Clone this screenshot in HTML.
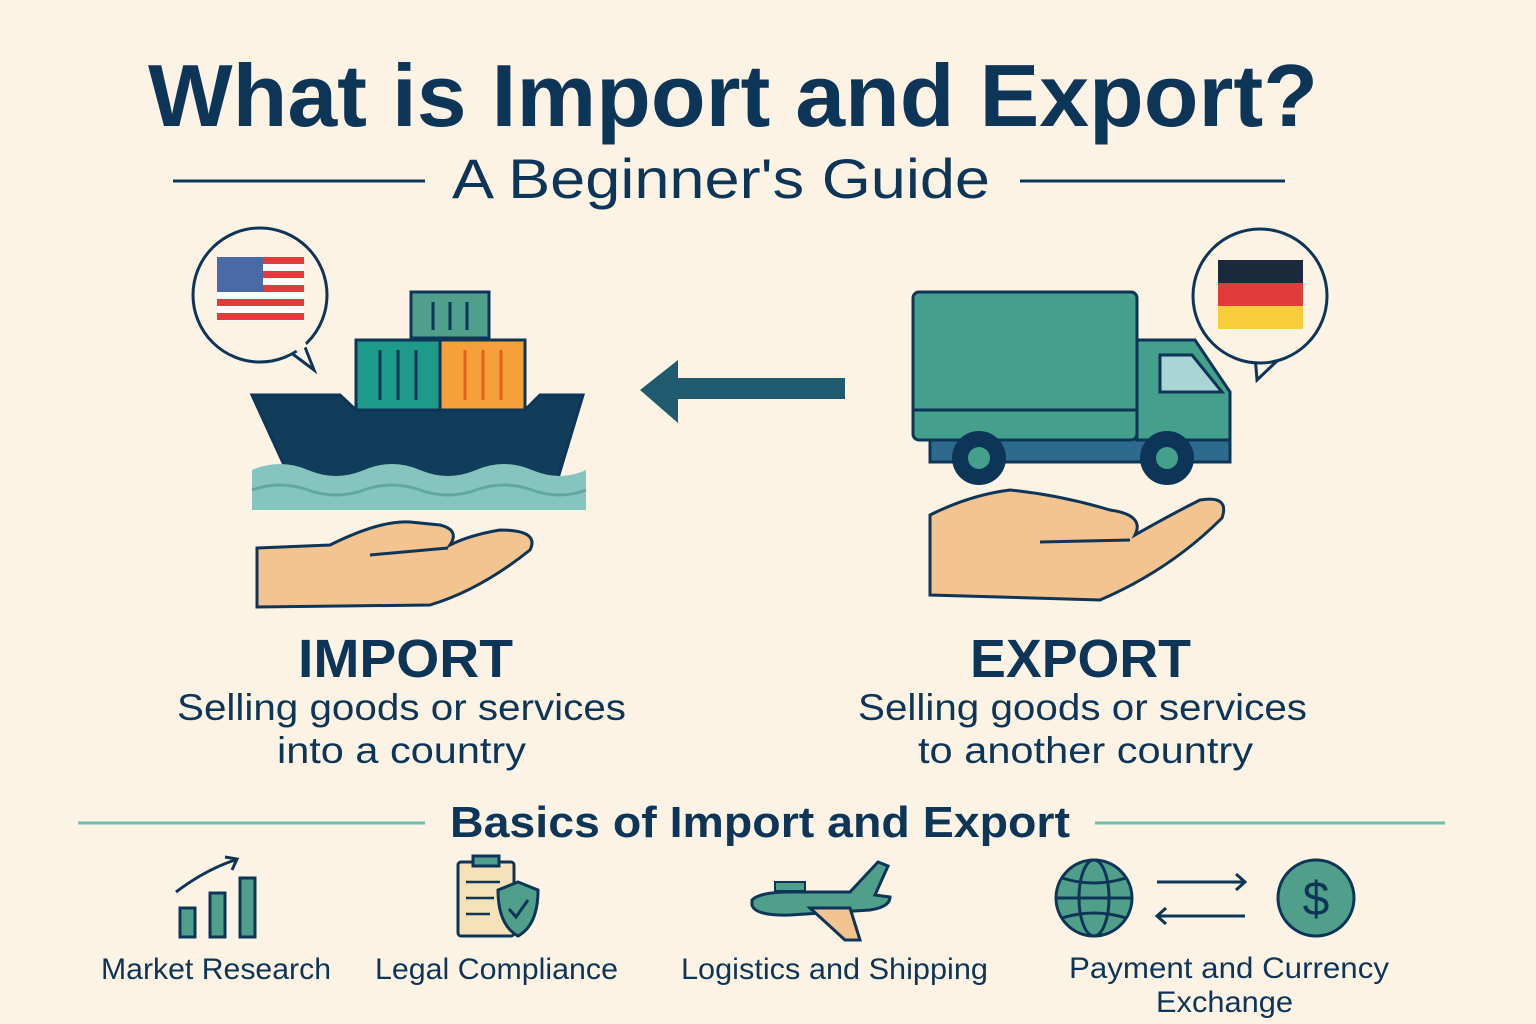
<!DOCTYPE html>
<html><head><meta charset="utf-8"><style>
html,body{margin:0;padding:0;background:#fdf3e4;}
svg{display:block;}
text{font-family:"Liberation Sans",sans-serif;fill:#0d3557;}
</style></head><body>
<svg width="1536" height="1024" viewBox="0 0 1536 1024" xmlns="http://www.w3.org/2000/svg">
<rect width="1536" height="1024" fill="#fdf3e4"/>
<text x="148" y="126" font-size="88" font-weight="bold" textLength="1170" lengthAdjust="spacingAndGlyphs">What is Import and Export?</text>
<line x1="173" y1="181" x2="425" y2="181" stroke="#0d3557" stroke-width="3"/>
<line x1="1020" y1="181" x2="1285" y2="181" stroke="#0d3557" stroke-width="3"/>
<text x="452" y="198" font-size="56" textLength="538" lengthAdjust="spacingAndGlyphs">A Beginner's Guide</text>

<path d="M290 352 L314 370 L303 342 Z" fill="#fdf3e4" stroke="#0d3557" stroke-width="3"/>
<circle cx="260" cy="295" r="67" fill="#fdf3e4" stroke="#0d3557" stroke-width="3"/>
<path d="M296 350 L306 344" stroke="#fdf3e4" stroke-width="5"/>
<g>
<rect x="217" y="257" width="87" height="64" fill="#fff"/>
<rect x="217" y="257" width="87" height="7" fill="#e23b3b"/>
<rect x="217" y="271" width="87" height="7" fill="#e23b3b"/>
<rect x="217" y="285" width="87" height="7" fill="#e23b3b"/>
<rect x="217" y="299" width="87" height="7" fill="#e23b3b"/>
<rect x="217" y="313" width="87" height="7" fill="#e23b3b"/>
<rect x="217" y="257" width="46" height="35" fill="#4a6aa5"/>
</g>
<rect x="411" y="292" width="78" height="46" fill="#4f9f8a" stroke="#0d3557" stroke-width="3"/>
<rect x="356" y="340" width="84" height="70" fill="#1e9a8a" stroke="#0d3557" stroke-width="3"/>
<rect x="440" y="340" width="85" height="70" fill="#f5a03a" stroke="#0d3557" stroke-width="3"/>
<g stroke="#0d3557" stroke-width="3"><line x1="433" y1="302" x2="433" y2="330"/><line x1="450" y1="302" x2="450" y2="330"/><line x1="467" y1="302" x2="467" y2="330"/>
<line x1="380" y1="350" x2="380" y2="400"/><line x1="398" y1="350" x2="398" y2="400"/><line x1="416" y1="350" x2="416" y2="400"/></g>
<g stroke="#e0621c" stroke-width="3"><line x1="465" y1="350" x2="465" y2="400"/><line x1="483" y1="350" x2="483" y2="400"/><line x1="501" y1="350" x2="501" y2="400"/></g>
<path d="M252 395 L340 395 L356 410 L525 410 L540 395 L583 395 L558 478 L290 478 Z" fill="#0f3d5a" stroke="#0d3557" stroke-width="3"/>
<path d="M252 470 Q280 458 308 470 T364 470 T420 470 T476 470 T532 470 T586 470 L586 510 L252 510 Z" fill="#86c5bf"/>
<path d="M252 490 Q280 480 308 490 T364 490 T420 490 T476 490 T532 490 T586 490" fill="none" stroke="#5fa9a1" stroke-width="3"/>
<path d="M257 548 L330 545 Q380 520 410 522 L440 525 Q460 530 450 545 Q470 535 500 530 Q540 530 530 550 Q480 590 430 605 L257 607 Z" fill="#f3c48f" stroke="#0d3557" stroke-width="3"/>
<path d="M370 555 L448 548" stroke="#0d3557" stroke-width="3" fill="none"/>

<path d="M845 378 L678 378 L678 360 L640 390 L678 423 L678 399 L845 399 Z" fill="#1f5a6e"/>

<rect x="930" y="438" width="300" height="24" fill="#2e6a8e" stroke="#0d3557" stroke-width="3"/>
<rect x="913" y="292" width="224" height="148" rx="6" fill="#44a08a" stroke="#0d3557" stroke-width="3"/>
<line x1="913" y1="410" x2="1137" y2="410" stroke="#0d3557" stroke-width="3"/>
<path d="M1137 340 L1195 340 L1230 392 L1230 440 L1137 440 Z" fill="#44a08a" stroke="#0d3557" stroke-width="3"/>
<path d="M1160 355 L1192 355 L1222 392 L1160 392 Z" fill="#a9d6d4" stroke="#0d3557" stroke-width="3"/>
<circle cx="979" cy="458" r="27" fill="#0d3557"/><circle cx="979" cy="458" r="11" fill="#44a08a"/>
<circle cx="1167" cy="458" r="27" fill="#0d3557"/><circle cx="1167" cy="458" r="11" fill="#44a08a"/>
<path d="M1255 355 L1257 380 L1278 360 Z" fill="#fdf3e4" stroke="#0d3557" stroke-width="3"/>
<circle cx="1260" cy="296" r="67" fill="#fdf3e4" stroke="#0d3557" stroke-width="3"/>
<rect x="1218" y="260" width="85" height="23" fill="#1a2a3a"/>
<rect x="1218" y="283" width="85" height="23" fill="#e23b3b"/>
<rect x="1218" y="306" width="85" height="23" fill="#f7cd3c"/>
<path d="M930 515 Q970 495 1010 490 Q1060 495 1110 510 Q1145 515 1135 535 Q1170 515 1200 500 Q1230 495 1222 518 Q1170 570 1100 600 L930 595 Z" fill="#f3c48f" stroke="#0d3557" stroke-width="3"/>
<path d="M1040 542 L1130 540" stroke="#0d3557" stroke-width="3"/>

<text x="298" y="677" font-size="54" font-weight="bold" textLength="215" lengthAdjust="spacingAndGlyphs">IMPORT</text>
<text x="177" y="720" font-size="37" textLength="449" lengthAdjust="spacingAndGlyphs">Selling goods or services</text>
<text x="277" y="763" font-size="37" textLength="249" lengthAdjust="spacingAndGlyphs">into a country</text>
<text x="970" y="677" font-size="54" font-weight="bold" textLength="221" lengthAdjust="spacingAndGlyphs">EXPORT</text>
<text x="858" y="720" font-size="37" textLength="449" lengthAdjust="spacingAndGlyphs">Selling goods or services</text>
<text x="918" y="763" font-size="37" textLength="335" lengthAdjust="spacingAndGlyphs">to another country</text>

<line x1="78" y1="823" x2="425" y2="823" stroke="#6bbdb5" stroke-width="3"/>
<line x1="1095" y1="823" x2="1445" y2="823" stroke="#6bbdb5" stroke-width="3"/>
<text x="450" y="837" font-size="44" font-weight="bold" textLength="620" lengthAdjust="spacingAndGlyphs">Basics of Import and Export</text>

<g stroke="#0d3557" stroke-width="3" fill="#4f9f8a">
<rect x="180" y="908" width="15" height="29"/><rect x="210" y="893" width="15" height="44"/><rect x="240" y="878" width="15" height="59"/>
</g>
<path d="M176 892 Q205 870 235 860" stroke="#0d3557" stroke-width="3" fill="none"/><path d="M225 857 L237 859 L232 870" stroke="#0d3557" stroke-width="3" fill="none"/>
<rect x="458" y="862" width="56" height="74" rx="3" fill="#f7e1b8" stroke="#0d3557" stroke-width="3"/>
<rect x="473" y="856" width="26" height="10" fill="#4f9f8a" stroke="#0d3557" stroke-width="3"/>
<g stroke="#0d3557" stroke-width="2.5"><line x1="466" y1="882" x2="500" y2="882"/><line x1="466" y1="898" x2="494" y2="898"/><line x1="466" y1="914" x2="490" y2="914"/></g>
<path d="M518 882 L538 890 Q538 925 518 936 Q498 925 498 890 Z" fill="#4f9f8a" stroke="#0d3557" stroke-width="3"/>
<path d="M509 909 L516 917 L528 900" stroke="#0d3557" stroke-width="3" fill="none"/>
<path d="M752 900 Q760 892 790 892 L850 892 L878 862 L888 866 L875 895 L890 897 Q890 907 870 910 L790 915 Q755 916 752 905 Z" fill="#4f9f8a" stroke="#0d3557" stroke-width="3"/>
<path d="M810 908 L850 908 L860 940 L845 940 Z" fill="#f3c48f" stroke="#0d3557" stroke-width="3"/>
<rect x="775" y="882" width="30" height="9" fill="#4f9f8a" stroke="#0d3557" stroke-width="2"/>
<circle cx="1094" cy="898" r="38" fill="#4f9f8a" stroke="#0d3557" stroke-width="3"/>
<g stroke="#0d3557" stroke-width="3" fill="none"><ellipse cx="1094" cy="898" rx="15" ry="38"/><line x1="1056" y1="898" x2="1132" y2="898"/><path d="M1062 878 Q1094 888 1126 878"/><path d="M1062 918 Q1094 908 1126 918"/></g>
<g stroke="#0d3557" stroke-width="3" fill="none"><line x1="1157" y1="882" x2="1245" y2="882"/><path d="M1236 874 L1245 882 L1236 890"/><line x1="1157" y1="916" x2="1245" y2="916"/><path d="M1166 908 L1157 916 L1166 924"/></g>
<circle cx="1316" cy="898" r="38" fill="#4f9f8a" stroke="#0d3557" stroke-width="3"/>
<text x="1316" y="915" font-size="48" text-anchor="middle">$</text>

<text x="101" y="979" font-size="30" textLength="230" lengthAdjust="spacingAndGlyphs">Market Research</text>
<text x="375" y="979" font-size="30" textLength="243" lengthAdjust="spacingAndGlyphs">Legal Compliance</text>
<text x="681" y="979" font-size="30" textLength="307" lengthAdjust="spacingAndGlyphs">Logistics and Shipping</text>
<text x="1069" y="978" font-size="30" textLength="320" lengthAdjust="spacingAndGlyphs">Payment and Currency</text>
<text x="1156" y="1012" font-size="30" textLength="137" lengthAdjust="spacingAndGlyphs">Exchange</text>
</svg>
</body></html>
